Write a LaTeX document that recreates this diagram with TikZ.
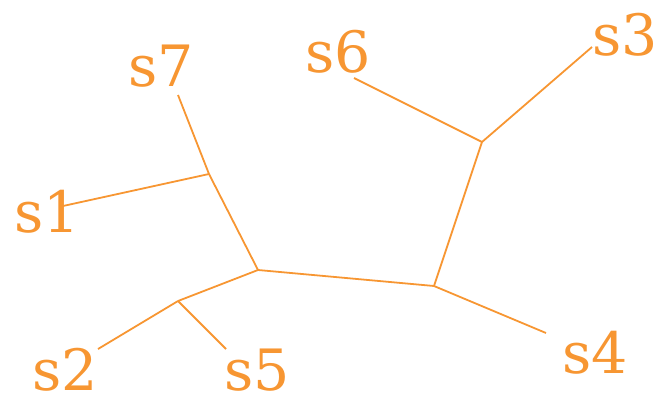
\documentclass[tikz,border=0pt]{standalone}
\usepackage{fontspec}
\setmainfont{DejaVu Serif}
\definecolor{tree}{RGB}{247,150,50}
\begin{document}
\begin{tikzpicture}[x=1pt,y=-1pt,
  edge/.style={draw=tree,line width=1.8pt},
  lbl/.style={text=tree,font=\fontsize{57}{57}\selectfont,anchor=base,inner sep=0pt}]
\useasboundingbox (0,0) rectangle (664,394);
% internal nodes
\coordinate (A) at (209,174);
\coordinate (B) at (258,270);
\coordinate (C) at (434,286);
\coordinate (D) at (482,142);
\coordinate (E) at (178,301);
% leaf ends
\coordinate (e7) at (178,95);
\coordinate (e1) at (63,206);
\coordinate (e6) at (354,78);
\coordinate (e3) at (592,47);
\coordinate (e4) at (546,333);
\coordinate (e2) at (98,349);
\coordinate (e5) at (226,349);
% labels
\node[lbl] (s7) at (161,86) {s7};
\node[lbl] (s1) at (47,232) {s1};
\node[lbl] (s6) at (338,72) {s6};
\node[lbl] (s3) at (625,55) {s3};
\node[lbl] (s4) at (595,373) {s4};
\node[lbl] (s2) at (65,390) {s2};
\node[lbl] (s5) at (257,390) {s5};
% edges
\draw[edge] (e7) -- (A);
\draw[edge] (e1) -- (A);
\draw[edge] (A) -- (B);
\draw[edge] (B) -- (C);
\draw[edge] (C) -- (D);
\draw[edge] (D) -- (e6);
\draw[edge] (D) -- (e3);
\draw[edge] (C) -- (e4);
\draw[edge] (B) -- (E);
\draw[edge] (E) -- (e2);
\draw[edge] (E) -- (e5);
\end{tikzpicture}
\end{document}
